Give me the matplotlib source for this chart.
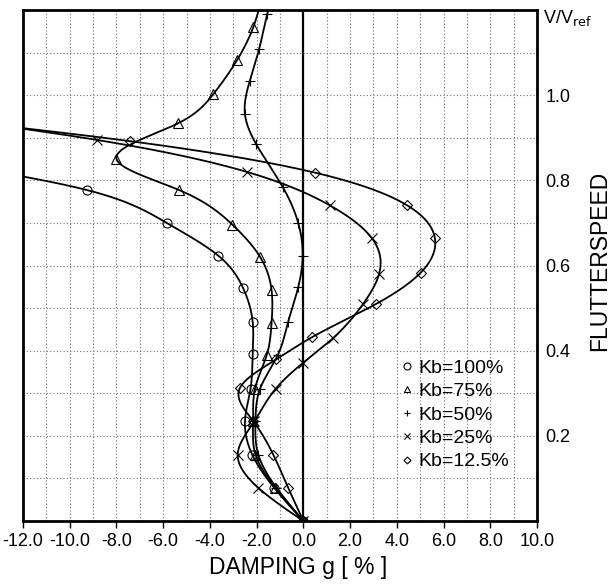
import numpy as np
import matplotlib
matplotlib.use("Agg")
import matplotlib.pyplot as plt
from matplotlib.lines import Line2D

plt.rcParams["font.family"] = ["Liberation Sans", "DejaVu Sans"]

# ---- data: V/Vref and damping g [%] ----
# last point of some series lies outside the frame (curves run off the edge)
kb100_v = [0, 0.078, 0.156, 0.234, 0.311, 0.391, 0.468, 0.546, 0.623, 0.700, 0.777, 0.855]
kb100_g = [0, -1.25, -2.19, -2.50, -2.26, -2.17, -2.17, -2.57, -3.64, -5.85, -9.25, -17.0]

kb75_v = [0, 0.078, 0.156, 0.234, 0.311, 0.389, 0.466, 0.542, 0.621, 0.696, 0.777,
          0.851, 0.934, 1.002, 1.083, 1.160, 1.237]
kb75_g = [0, -1.20, -2.05, -2.15, -2.07, -1.57, -1.36, -1.36, -1.86, -3.04, -5.31,
          -8.00, -5.36, -3.86, -2.83, -2.14, -1.75]

kb50_v = [0, 0.078, 0.156, 0.234, 0.311, 0.389, 0.468, 0.549, 0.623, 0.700, 0.785,
          0.886, 0.955, 1.034, 1.109, 1.190, 1.265]
kb50_g = [0, -1.15, -1.93, -2.05, -1.85, -1.10, -0.65, -0.22, -0.03, -0.22, -0.89,
          -2.03, -2.50, -2.29, -1.89, -1.55, -1.15]

kb25_v = [0, 0.078, 0.156, 0.234, 0.311, 0.372, 0.430, 0.510, 0.580, 0.665, 0.741,
          0.820, 0.895, 0.972]
kb25_g = [0, -1.93, -2.81, -2.10, -1.18, 0.0, 1.28, 2.56, 3.24, 2.92, 1.14,
          -2.43, -8.85, -19.0]

kb12_v = [0, 0.078, 0.156, 0.234, 0.313, 0.380, 0.431, 0.509, 0.583, 0.664, 0.741,
          0.818, 0.892, 0.970]
kb12_g = [0, -0.65, -1.29, -2.14, -2.71, -1.15, 0.35, 3.09, 5.02, 5.63, 4.45,
          0.50, -7.42, -20.0]

labels = ["Kb=100%", "Kb=75%", "Kb=50%", "Kb=25%", "Kb=12.5%"]
markers = ["o", "^", "+", "x", "D"]
series = [(kb100_v, kb100_g), (kb75_v, kb75_g), (kb50_v, kb50_g),
          (kb25_v, kb25_g), (kb12_v, kb12_g)]


def natural_spline(t, y, tt):
    # natural cubic spline, g as a function of V
    t = np.asarray(t, float)
    y = np.asarray(y, float)
    n = len(t)
    h = np.diff(t)
    A = np.zeros((n, n))
    r = np.zeros(n)
    A[0, 0] = A[-1, -1] = 1.0
    for i in range(1, n - 1):
        A[i, i - 1] = h[i - 1]
        A[i, i] = 2 * (h[i - 1] + h[i])
        A[i, i + 1] = h[i]
        r[i] = 6 * ((y[i + 1] - y[i]) / h[i] - (y[i] - y[i - 1]) / h[i - 1])
    M = np.linalg.solve(A, r)
    k = np.clip(np.searchsorted(t, tt) - 1, 0, n - 2)
    hk = h[k]
    a = (t[k + 1] - tt) / hk
    b = (tt - t[k]) / hk
    return (a * y[k] + b * y[k + 1]
            + ((a ** 3 - a) * M[k] + (b ** 3 - b) * M[k + 1]) * hk ** 2 / 6)


fig = plt.figure(figsize=(6.1, 5.86), dpi=100)
ax = fig.add_axes([23 / 610, 1 - 521 / 586, 514 / 610, 511 / 586])

ax.set_xlim(-12, 10)
ax.set_ylim(0, 1.2)

ax.set_xticks(np.arange(-12, 10.1, 2))
ax.set_xticks(np.arange(-12, 10.1, 1), minor=True)
ax.set_xticklabels([f"{v:.1f}" for v in np.arange(-12, 10.1, 2)])
ax.set_yticks([0.2, 0.4, 0.6, 0.8, 1.0])
ax.set_yticks(np.arange(0, 1.21, 0.1), minor=True)
ax.set_yticklabels(["0.2", "0.4", "0.6", "0.8", "1.0"])
ax.yaxis.tick_right()
ax.tick_params(axis="x", which="major", length=5, width=1, direction="out",
               labelsize=13, pad=4)
ax.tick_params(axis="y", which="major", length=0, labelsize=13, pad=6)
ax.tick_params(which="minor", length=0)

ax.grid(which="both", ls=(0, (1, 2)), color="0.45", lw=0.8)
ax.set_axisbelow(True)
for s in ax.spines.values():
    s.set_linewidth(2)

ax.axvline(0, color="black", lw=1.6, zorder=2)

for (v, g), mk in zip(series, markers):
    vv = np.linspace(v[0], v[-1], 600)
    ax.plot(natural_spline(v, g, vv), vv, color="black", lw=1.3, zorder=3)
    v = np.asarray(v)
    g = np.asarray(g)
    inside = (g >= -12) & (v <= 1.2)
    ms = 5 if mk == "D" else 6.5
    ax.plot(g[inside], v[inside], ls="none", marker=mk, ms=ms, mfc="none",
            mec="black", mew=0.8, color="black", zorder=4)

handles = [Line2D([], [], ls="none", marker=mk, ms=(3.5 if mk == "D" else 5),
                  mfc="none", mec="black", mew=0.8) for mk in markers]
ax.legend(handles, labels, loc="upper left", bbox_to_anchor=(0.735, 0.317),
          frameon=False, fontsize=14, handlelength=0.6, handletextpad=0.3,
          labelspacing=0.3, borderpad=0, borderaxespad=0)

ax.set_xlabel("DAMPING g [ % ]", fontsize=16.5)
ax.xaxis.set_label_coords(0.535, -0.068)
ax.text(1.012, 1.003, r"V/V$_{\rm ref}$", transform=ax.transAxes,
        fontsize=13, ha="left", va="top")
ax.text(1.1226, 0.509, "FLUTTERSPEED", transform=ax.transAxes,
        fontsize=16.5, rotation=90, ha="center", va="center")

fig.savefig("out.png", dpi=100)
